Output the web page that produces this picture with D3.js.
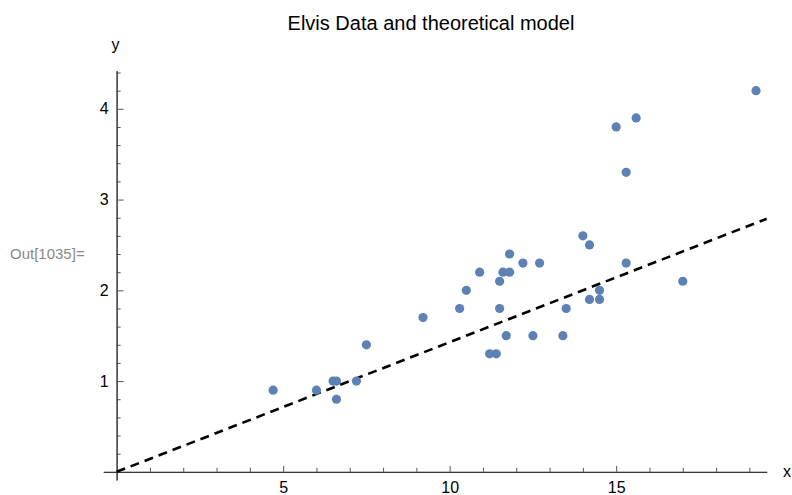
<!DOCTYPE html>
<html>
<head>
<meta charset="utf-8">
<script src="https://cdn.jsdelivr.net/npm/d3@7"></script>
<style>
  body { margin: 0; background: #fff; }
  text { font-family: "Liberation Sans", Arial, sans-serif; }
</style>
</head>
<body>
<div class="chart"></div>
<script>
// data
const xs = [4.7, 6.0, 6.5, 6.6, 6.6, 7.2, 7.5, 9.2, 10.3, 10.5, 10.9, 11.2, 11.4, 11.5, 11.5, 11.6, 11.7, 11.8,
            11.8, 12.2, 12.5, 12.7, 13.4, 13.5, 14.0, 14.2, 14.2, 14.5, 14.5, 15.0, 15.3, 15.3, 15.6, 17.0, 19.2];
const ys = [0.9, 0.9, 1.0, 1.0, 0.8, 1.0, 1.4, 1.7, 1.8, 2.0, 2.2, 1.3, 1.3, 2.1, 1.8, 2.2, 1.5, 2.2,
            2.4, 2.3, 1.5, 2.3, 1.5, 1.8, 2.6, 2.5, 1.9, 1.9, 2.0, 3.8, 3.3, 2.3, 3.9, 2.1, 4.2];
const modelSlope = 1 / 7;   // theoretical model y = x/7
const xMajor = [5, 10, 15];
const yMajor = [1, 2, 3, 4];
const xMinor = d3.range(1, 20).filter(v => v % 5 !== 0);
const yMinor = d3.range(1, 23).map(i => i / 5).filter(v => Math.abs(v - Math.round(v)) > 1e-9);

const W = 792, H = 495;

let svg = d3.select(".chart")
    .append("svg")
    .attr("width", W)
    .attr("height", H);

let x = d3.scaleLinear().domain([-0.4, 19.52]).range([103.3, 766.7]);
let y = d3.scaleLinear().domain([-0.09, 4.42]).range([480, 70.7]);

// x axis (crosses at y = 0)
const gx = svg.append("g")
    .attr("transform", `translate(0,${y(0)})`);
gx.call(d3.axisBottom(x).tickValues(xMinor).tickSize(-4).tickSizeOuter(0).tickFormat(""));
gx.append("g").call(d3.axisBottom(x).tickValues(xMajor).tickSize(-6).tickSizeOuter(0)
    .tickPadding(10).tickFormat(d3.format("d")));

// y axis (crosses at x = 0)
const gy = svg.append("g")
    .attr("transform", `translate(${x(0)},0)`);
gy.call(d3.axisLeft(y).tickValues(yMinor).tickSize(-4).tickSizeOuter(0).tickFormat(""));
gy.append("g").call(d3.axisLeft(y).tickValues(yMajor).tickSize(-7).tickSizeOuter(0)
    .tickPadding(8).tickFormat(d3.format("d")));

svg.selectAll(".domain").attr("stroke", "#333");
svg.selectAll(".tick line").attr("stroke", "#555");
svg.selectAll(".tick text")
    .attr("fill", "#000")
    .style("font-size", "16px")
    .style("font-family", '"Liberation Sans", Arial, sans-serif');

// model line
const line = d3.line().x(d => x(d)).y(d => y(d * modelSlope));
svg.append("path")
    .datum([0, 19.52])
    .attr("d", line)
    .attr("fill", "none")
    .attr("stroke", "#000")
    .attr("stroke-width", 2.6)
    .attr("stroke-dasharray", "9,6");

// data points
svg.append("g")
    .selectAll("circle")
    .data(xs.map((v, i) => [v, ys[i]]))
    .join("circle")
    .attr("cx", d => x(d[0]))
    .attr("cy", d => y(d[1]))
    .attr("r", 4.6)
    .attr("fill", "#5E81B5");

// labels
svg.append("text")
    .attr("x", 431).attr("y", 30)
    .attr("text-anchor", "middle")
    .style("font-size", "20px")
    .text("Elvis Data and theoretical model");

svg.append("text")
    .attr("x", x(0) - 1).attr("y", 50)
    .attr("text-anchor", "middle")
    .style("font-size", "16px")
    .text("y");

svg.append("text")
    .attr("x", 783).attr("y", y(0) + 5)
    .style("font-size", "16px")
    .text("x");

svg.append("text")
    .attr("x", 10).attr("y", 259)
    .attr("fill", "#888")
    .style("font-size", "15px")
    .text("Out[1035]=");
</script>
</body>
</html>
